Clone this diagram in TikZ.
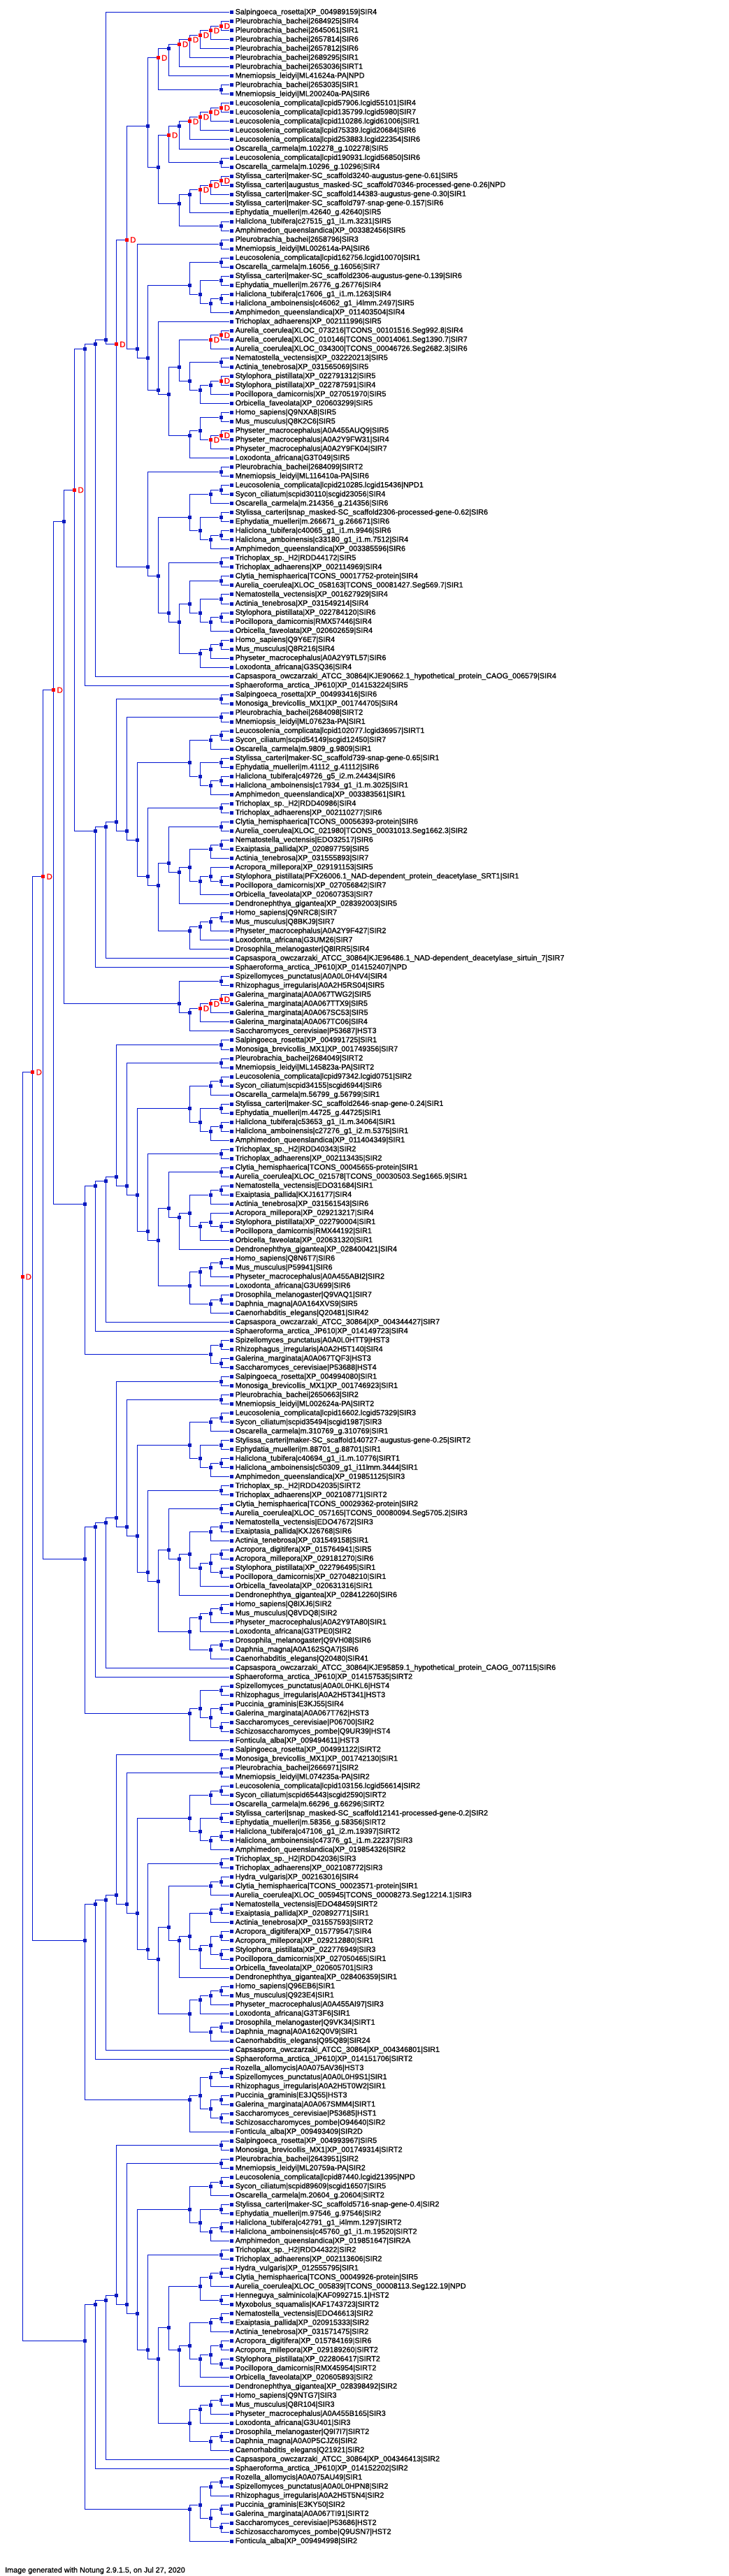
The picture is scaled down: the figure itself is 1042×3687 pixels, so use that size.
\documentclass[tikz,border=0pt]{standalone}
\usepackage{fontspec}
\setmainfont{Liberation Sans}
\newfontface\labfont{Liberation Sans}[FakeBold=1.0]
\definecolor{tblue}{RGB}{0,20,210}
\definecolor{tsq}{RGB}{10,25,190}
\definecolor{tred}{RGB}{255,0,0}
\newcount\leafn
\newcount\cdepth
\newcount\nodeN
\def\leafx{331}
\def\ystart{17.7}
\def\ystep{13.02}
\def\levstep{14.95}
\tikzset{
  sqnode/.style={rectangle, fill=tsq, draw=none, minimum size=5pt, inner sep=0pt},
  dupnode/.style={rectangle, fill=tred, draw=none, minimum size=5pt, inner sep=0pt},
  leaflab/.style={anchor=west, inner sep=0pt, font=\labfont\fontsize{10.8}{12}\selectfont, text=black},
  duplab/.style={anchor=west, inner sep=0pt, font=\labfont\fontsize{11.5}{12}\selectfont, text=tred},
  branch/.style={draw=tblue, line width=1pt},
}
\expandafter\def\csname kc@0\endcsname{0}
\expandafter\def\csname ml@0\endcsname{0}
\def\Op{%
  \global\advance\cdepth by 1
  \expandafter\xdef\csname fst@\the\cdepth\endcsname{\the\numexpr\leafn+1\relax}%
  \expandafter\xdef\csname kc@\the\cdepth\endcsname{0}%
  \expandafter\xdef\csname ml@\the\cdepth\endcsname{0}%
}
\def\AddKid#1#2{%
  \expandafter\xdef\csname kc@\the\cdepth\endcsname{\the\numexpr\csname kc@\the\cdepth\endcsname+1\relax}%
  \expandafter\xdef\csname k@\the\cdepth @\csname kc@\the\cdepth\endcsname\endcsname{#1}%
  \ifnum#2>\csname ml@\the\cdepth\endcsname\relax
    \expandafter\xdef\csname ml@\the\cdepth\endcsname{#2}%
  \fi
}
\def\Lf#1{%
  \global\advance\leafn by 1
  \pgfmathsetmacro\yy{-(\ystart+(\the\leafn-1)*\ystep)}%
  \node[sqnode] (L\the\leafn) at (\leafx,\yy) {};
  \node[leaflab] (T\the\leafn) at (\leafx+5.5,\yy) {#1};
  \AddKid{L\the\leafn}{0}%
}
\def\CloseClade#1{%
  \global\advance\nodeN by 1
  \edef\lev{\the\numexpr\csname ml@\the\cdepth\endcsname+1\relax}%
  \edef\fst{\csname fst@\the\cdepth\endcsname}%
  \edef\nk{\csname kc@\the\cdepth\endcsname}%
  \edef\nm{I\the\nodeN}%
  \pgfmathsetmacro\yy{-(\ystart+((\fst+\the\leafn)/2-1)*\ystep)}%
  \pgfmathsetmacro\xx{\leafx-\lev*\levstep}%
  \coordinate (c\nm) at (\xx,\yy);
  \foreach \i in {1,...,\nk}{%
    \edef\kidnm{\csname k@\the\cdepth @\i\endcsname}%
    \draw[branch] (c\nm) |- (\kidnm);
  }
  \ifx#1D%
    \node[dupnode] (\nm) at (c\nm) {};
    \node[duplab] (D\nm) at ([xshift=4.5pt]\nm.center) {D};
  \else
    \node[sqnode] (\nm) at (c\nm) {};
  \fi
  \global\advance\cdepth by -1
  \AddKid{\nm}{\lev}%
}
\def\Cl{\CloseClade N}
\def\ClD{\CloseClade D}
\def\Ch#1#2{\Op\Lf{#1}\Lf{#2}\Cl}
\def\ChD#1#2{\Op\Lf{#1}\Lf{#2}\ClD}
\begin{document}
\catcode`\_=12
\begin{tikzpicture}[x=1pt,y=1pt]
\fill[white] (0,0) rectangle (1042,-3687);
\useasboundingbox (0,0) rectangle (1042,-3687);
\Op % root
 \Op % 96D
  \Op % 127D
   \Op % 158D
    \Op % 189
     \Op % 220D
      \Op % G1 250
       \Op % 282
        \Op % 313
         \Lf{Salpingoeca_rosetta|XP_004989159|SIR4}
         \Op % 343D
          \Op % 374D
           \Op % 436
            \Op % 467D
             \Op % 497
              \Op \Op \Op \Op
                  \ChD{Pleurobrachia_bachei|2684925|SIR4}{Pleurobrachia_bachei|2645061|SIR1}
                  \Lf{Pleurobrachia_bachei|2657814|SIR6}
                 \ClD
                 \Lf{Pleurobrachia_bachei|2657812|SIR6}
                \ClD
                \Lf{Pleurobrachia_bachei|2689295|SIR1}
               \ClD
               \Lf{Pleurobrachia_bachei|2653036|SIRT1}
              \ClD
              \Lf{Mnemiopsis_leidyi|ML41624a-PA|NPD}
             \Cl
             \Ch{Pleurobrachia_bachei|2653035|SIR1}{Mnemiopsis_leidyi|ML200240a-PA|SIR6}
            \ClD
            \Op % 467
             \Op % 497D
              \Op \Op \Op \Op
                  \ChD{Leucosolenia_complicata|lcpid57906.lcgid55101|SIR4}{Leucosolenia_complicata|lcpid135799.lcgid5980|SIR7}
                  \Lf{Leucosolenia_complicata|lcpid110286.lcgid61006|SIR1}
                 \ClD
                 \Lf{Leucosolenia_complicata|lcpid75339.lcgid20684|SIR6}
                \ClD
                \Lf{Leucosolenia_complicata|lcpid253883.lcgid22354|SIR6}
               \ClD
               \Lf{Oscarella_carmela|m.102278_g.102278|SIR5}
              \Cl
              \Ch{Leucosolenia_complicata|lcpid190931.lcgid56850|SIR6}{Oscarella_carmela|m.10296_g.10296|SIR4}
             \ClD
             \Op % 528
              \Op \Op \Op
                 \ChD{Stylissa_carteri|maker-SC_scaffold3240-augustus-gene-0.61|SIR5}{Stylissa_carteri|augustus_masked-SC_scaffold70346-processed-gene-0.26|NPD}
                 \Lf{Stylissa_carteri|maker-SC_scaffold144383-augustus-gene-0.30|SIR1}
                \ClD
                \Lf{Stylissa_carteri|maker-SC_scaffold797-snap-gene-0.157|SIR6}
               \ClD
               \Lf{Ephydatia_muelleri|m.42640_g.42640|SIR5}
              \Cl
              \Ch{Haliclona_tubifera|c27515_g1_i1.m.3231|SIR5}{Amphimedon_queenslandica|XP_003382456|SIR5}
             \Cl
            \Cl
           \Cl
           \Op % 405
            \Ch{Pleurobrachia_bachei|2658796|SIR3}{Mnemiopsis_leidyi|ML002614a-PA|SIR6}
            \Op % 436
             \Op % 559
              \Ch{Leucosolenia_complicata|lcpid162756.lcgid10070|SIR1}{Oscarella_carmela|m.16056_g.16056|SIR7}
              \Op
               \Ch{Stylissa_carteri|maker-SC_scaffold2306-augustus-gene-0.139|SIR6}{Ephydatia_muelleri|m.26776_g.26776|SIR4}
               \Op \Ch{Haliclona_tubifera|c17606_g1_i1.m.1263|SIR4}{Haliclona_amboinensis|c46062_g1_i4lmm.2497|SIR5}\Lf{Amphimedon_queenslandica|XP_011403504|SIR4}\Cl
              \Cl
             \Cl
             \Op % 467
              \Lf{Trichoplax_adhaerens|XP_002111996|SIR5}
              \Op % 497
               \Op % 528
                \Op
                 \ChD{Aurelia_coerulea|XLOC_073216|TCONS_00101516.Seg992.8|SIR4}{Aurelia_coerulea|XLOC_010146|TCONS_00014061.Seg1390.7|SIR7}
                 \Lf{Aurelia_coerulea|XLOC_034300|TCONS_00046726.Seg2682.3|SIR6}
                \ClD
                \Op
                 \Ch{Nematostella_vectensis|XP_032220213|SIR5}{Actinia_tenebrosa|XP_031565069|SIR5}
                 \Op
                  \Op
                   \ChD{Stylophora_pistillata|XP_022791312|SIR5}{Stylophora_pistillata|XP_022787591|SIR4}
                   \Lf{Pocillopora_damicornis|XP_027051970|SIR5}
                  \Cl
                  \Lf{Orbicella_faveolata|XP_020603299|SIR5}
                 \Cl
                \Cl
               \Cl
               \Op % 559
                \Op
                 \Ch{Homo_sapiens|Q9NXA8|SIR5}{Mus_musculus|Q8K2C6|SIR5}
                 \Op
                  \ChD{Physeter_macrocephalus|A0A455AUQ9|SIR5}{Physeter_macrocephalus|A0A2Y9FW31|SIR4}
                  \Lf{Physeter_macrocephalus|A0A2Y9FK04|SIR7}
                 \ClD
                \Cl
                \Lf{Loxodonta_africana|G3T049|SIR5}
               \Cl
              \Cl
             \Cl
            \Cl
           \Cl
          \ClD % 374D
          \Op % 436
           \Ch{Pleurobrachia_bachei|2684099|SIRT2}{Mnemiopsis_leidyi|ML116410a-PA|SIR6}
           \Op
            \Op
             \Op \Ch{Leucosolenia_complicata|lcpid210285.lcgid15436|NPD1}{Sycon_ciliatum|scpid30110|scgid23056|SIR4}\Lf{Oscarella_carmela|m.214356_g.214356|SIR6}\Cl
             \Op
              \Ch{Stylissa_carteri|snap_masked-SC_scaffold2306-processed-gene-0.62|SIR6}{Ephydatia_muelleri|m.266671_g.266671|SIR6}
              \Op \Ch{Haliclona_tubifera|c40065_g1_i1.m.9946|SIR6}{Haliclona_amboinensis|c33180_g1_i1.m.7512|SIR4}\Lf{Amphimedon_queenslandica|XP_003385596|SIR6}\Cl
             \Cl
            \Cl
            \Op
             \Ch{Trichoplax_sp._H2|RDD44172|SIR5}{Trichoplax_adhaerens|XP_002114969|SIR4}
             \Op
              \Op
               \Ch{Clytia_hemisphaerica|TCONS_00017752-protein|SIR4}{Aurelia_coerulea|XLOC_058163|TCONS_00081427.Seg569.7|SIR1}
               \Op
                \Ch{Nematostella_vectensis|XP_001627929|SIR4}{Actinia_tenebrosa|XP_031549214|SIR4}
                \Op \Ch{Stylophora_pistillata|XP_022784120|SIR6}{Pocillopora_damicornis|RMX57446|SIR4}\Lf{Orbicella_faveolata|XP_020602659|SIR4}\Cl
               \Cl
              \Cl
              \Op
               \Op \Ch{Homo_sapiens|Q9Y6E7|SIR4}{Mus_musculus|Q8R216|SIR4}\Lf{Physeter_macrocephalus|A0A2Y9TL57|SIR6}\Cl
               \Lf{Loxodonta_africana|G3SQ36|SIR4}
              \Cl
             \Cl
            \Cl
           \Cl
          \Cl
         \ClD % 343D
        \Cl % 313
        \Lf{Capsaspora_owczarzaki_ATCC_30864|KJE90662.1_hypothetical_protein_CAOG_006579|SIR4}
       \Cl % 282
       \Lf{Sphaeroforma_arctica_JP610|XP_014153224|SIR5}
      \Cl % 250
      \Op % G2 282
       \Op % 313
        \Op % 343
         \Ch{Salpingoeca_rosetta|XP_004993416|SIR6}{Monosiga_brevicollis_MX1|XP_001744705|SIR4}
         \Op
          \Ch{Pleurobrachia_bachei|2684098|SIRT2}{Mnemiopsis_leidyi|ML07623a-PA|SIR1}
          \Op
           \Op
            \Op \Ch{Leucosolenia_complicata|lcpid102077.lcgid36957|SIRT1}{Sycon_ciliatum|scpid54149|scgid12450|SIR7}\Lf{Oscarella_carmela|m.9809_g.9809|SIR1}\Cl
            \Op \Ch{Stylissa_carteri|maker-SC_scaffold739-snap-gene-0.65|SIR1}{Ephydatia_muelleri|m.41112_g.41112|SIR6}
             \Op \Ch{Haliclona_tubifera|c49726_g5_i2.m.24434|SIR6}{Haliclona_amboinensis|c17934_g1_i1.m.3025|SIR1}\Lf{Amphimedon_queenslandica|XP_003383561|SIR1}\Cl
            \Cl
           \Cl
           \Op
            \Ch{Trichoplax_sp._H2|RDD40986|SIR4}{Trichoplax_adhaerens|XP_002110277|SIR6}
            \Op
             \Op
              \Ch{Clytia_hemisphaerica|TCONS_00056393-protein|SIR6}{Aurelia_coerulea|XLOC_021980|TCONS_00031013.Seg1662.3|SIR2}
              \Op
               \Op
                \Op \Ch{Nematostella_vectensis|EDO32517|SIR6}{Exaiptasia_pallida|XP_020897759|SIR5}\Lf{Actinia_tenebrosa|XP_031555893|SIR7}\Cl
                \Op
                 \Op \Lf{Acropora_millepora|XP_029191153|SIR5}\Ch{Stylophora_pistillata|PFX26006.1_NAD-dependent_protein_deacetylase_SRT1|SIR1}{Pocillopora_damicornis|XP_027056842|SIR7}\Cl
                 \Lf{Orbicella_faveolata|XP_020607353|SIR7}
                \Cl
               \Cl
               \Lf{Dendronephthya_gigantea|XP_028392003|SIR5}
              \Cl
             \Cl
             \Op
              \Op \Op \Ch{Homo_sapiens|Q9NRC8|SIR7}{Mus_musculus|Q8BKJ9|SIR7}\Lf{Physeter_macrocephalus|A0A2Y9F427|SIR2}\Cl \Lf{Loxodonta_africana|G3UM26|SIR7}\Cl
              \Lf{Drosophila_melanogaster|Q8IRR5|SIR4}
             \Cl
            \Cl
           \Cl
          \Cl
         \Cl
        \Cl % 343
        \Lf{Capsaspora_owczarzaki_ATCC_30864|KJE96486.1_NAD-dependent_deacetylase_sirtuin_7|SIR7}
       \Cl
       \Lf{Sphaeroforma_arctica_JP610|XP_014152407|NPD}
      \Cl
     \ClD % 220D
     \Op % fungi 528
      \Ch{Spizellomyces_punctatus|A0A0L0H4V4|SIR4}{Rhizophagus_irregularis|A0A2H5RS04|SIR5}
      \Op
       \Op
        \Op
         \ChD{Galerina_marginata|A0A067TWG2|SIR5}{Galerina_marginata|A0A067TTX9|SIR5}
         \Lf{Galerina_marginata|A0A067SC53|SIR5}
        \ClD
        \Lf{Galerina_marginata|A0A067TC06|SIR4}
       \ClD
       \Lf{Saccharomyces_cerevisiae|P53687|HST3}
      \Cl
     \Cl
    \Cl % 189
    \Op % G3 250
     \Op
      \Op
       \Op
        \Ch{Salpingoeca_rosetta|XP_004991725|SIR1}{Monosiga_brevicollis_MX1|XP_001749356|SIR7}
        \Op
         \Ch{Pleurobrachia_bachei|2684049|SIRT2}{Mnemiopsis_leidyi|ML145823a-PA|SIRT2}
         \Op
          \Op
           \Op \Ch{Leucosolenia_complicata|lcpid97342.lcgid0751|SIR2}{Sycon_ciliatum|scpid34155|scgid6944|SIR6}\Lf{Oscarella_carmela|m.56799_g.56799|SIR1}\Cl
           \Op \Ch{Stylissa_carteri|maker-SC_scaffold2646-snap-gene-0.24|SIR1}{Ephydatia_muelleri|m.44725_g.44725|SIR1}
            \Op \Ch{Haliclona_tubifera|c53653_g1_i1.m.34064|SIR1}{Haliclona_amboinensis|c27276_g1_i2.m.5375|SIR1}\Lf{Amphimedon_queenslandica|XP_011404349|SIR1}\Cl
           \Cl
          \Cl
          \Op
           \Ch{Trichoplax_sp._H2|RDD40343|SIR2}{Trichoplax_adhaerens|XP_002113435|SIR2}
           \Op
            \Op
             \Ch{Clytia_hemisphaerica|TCONS_00045655-protein|SIR1}{Aurelia_coerulea|XLOC_021578|TCONS_00030503.Seg1665.9|SIR1}
             \Op
              \Op
               \Op \Ch{Nematostella_vectensis|EDO31684|SIR1}{Exaiptasia_pallida|KXJ16177|SIR4}\Lf{Actinia_tenebrosa|XP_031561543|SIR6}\Cl
               \Op \Op \Lf{Acropora_millepora|XP_029213217|SIR4}\Ch{Stylophora_pistillata|XP_022790004|SIR1}{Pocillopora_damicornis|RMX44192|SIR1}\Cl \Lf{Orbicella_faveolata|XP_020631320|SIR1}\Cl
              \Cl
              \Lf{Dendronephthya_gigantea|XP_028400421|SIR4}
             \Cl
            \Cl
            \Op
             \Op \Op \Ch{Homo_sapiens|Q8N6T7|SIR6}{Mus_musculus|P59941|SIR6}\Lf{Physeter_macrocephalus|A0A455ABI2|SIR2}\Cl \Lf{Loxodonta_africana|G3U699|SIR6}\Cl
             \Op \Ch{Drosophila_melanogaster|Q9VAQ1|SIR7}{Daphnia_magna|A0A164XVS9|SIR5}\Lf{Caenorhabditis_elegans|Q20481|SIR42}\Cl
            \Cl
           \Cl
          \Cl
         \Cl
        \Cl
       \Cl
       \Lf{Capsaspora_owczarzaki_ATCC_30864|XP_004344427|SIR7}
      \Cl
      \Lf{Sphaeroforma_arctica_JP610|XP_014149723|SIR4}
     \Cl
     \Op \Ch{Spizellomyces_punctatus|A0A0L0HTT9|HST3}{Rhizophagus_irregularis|A0A2H5T140|SIR4}\Ch{Galerina_marginata|A0A067TQF3|HST3}{Saccharomyces_cerevisiae|P53688|HST4}\Cl
    \Cl
   \ClD % 158D
   \Op % G4 250
    \Op
     \Op
      \Op
       \Ch{Salpingoeca_rosetta|XP_004994080|SIR1}{Monosiga_brevicollis_MX1|XP_001746923|SIR1}
       \Op
        \Ch{Pleurobrachia_bachei|2650663|SIR2}{Mnemiopsis_leidyi|ML002624a-PA|SIRT2}
        \Op
         \Op
          \Op \Ch{Leucosolenia_complicata|lcpid16602.lcgid57329|SIR3}{Sycon_ciliatum|scpid35494|scgid1987|SIR3}\Lf{Oscarella_carmela|m.310769_g.310769|SIR1}\Cl
          \Op \Ch{Stylissa_carteri|maker-SC_scaffold140727-augustus-gene-0.25|SIRT2}{Ephydatia_muelleri|m.88701_g.88701|SIR1}
           \Op \Ch{Haliclona_tubifera|c40694_g1_i1.m.10776|SIRT1}{Haliclona_amboinensis|c50309_g1_i11lmm.3444|SIR1}\Lf{Amphimedon_queenslandica|XP_019851125|SIR3}\Cl
          \Cl
         \Cl
         \Op
          \Ch{Trichoplax_sp._H2|RDD42035|SIRT2}{Trichoplax_adhaerens|XP_002108771|SIRT2}
          \Op
           \Op
            \Ch{Clytia_hemisphaerica|TCONS_00029362-protein|SIR2}{Aurelia_coerulea|XLOC_057165|TCONS_00080094.Seg5705.2|SIR3}
            \Op
             \Op
              \Op \Ch{Nematostella_vectensis|EDO47672|SIR3}{Exaiptasia_pallida|KXJ26768|SIR6}\Lf{Actinia_tenebrosa|XP_031549158|SIR1}\Cl
              \Op \Op \Ch{Acropora_digitifera|XP_015764941|SIR5}{Acropora_millepora|XP_029181270|SIR6}\Ch{Stylophora_pistillata|XP_022796495|SIR1}{Pocillopora_damicornis|XP_027048210|SIR1}\Cl \Lf{Orbicella_faveolata|XP_020631316|SIR1}\Cl
             \Cl
             \Lf{Dendronephthya_gigantea|XP_028412260|SIR6}
            \Cl
           \Cl
           \Op
            \Op \Op \Ch{Homo_sapiens|Q8IXJ6|SIR2}{Mus_musculus|Q8VDQ8|SIR2}\Lf{Physeter_macrocephalus|A0A2Y9TA80|SIR1}\Cl \Lf{Loxodonta_africana|G3TPE0|SIR2}\Cl
            \Op \Ch{Drosophila_melanogaster|Q9VH08|SIR6}{Daphnia_magna|A0A162SQA7|SIR6}\Lf{Caenorhabditis_elegans|Q20480|SIR41}\Cl
           \Cl
          \Cl
         \Cl
        \Cl
       \Cl
      \Cl
      \Lf{Capsaspora_owczarzaki_ATCC_30864|KJE95859.1_hypothetical_protein_CAOG_007115|SIR6}
     \Cl
     \Lf{Sphaeroforma_arctica_JP610|XP_014157535|SIRT2}
    \Cl
    \Op
     \Op
      \Ch{Spizellomyces_punctatus|A0A0L0HKL6|HST4}{Rhizophagus_irregularis|A0A2H5T341|HST3}
      \Op \Ch{Puccinia_graminis|E3KJ55|SIR4}{Galerina_marginata|A0A067T762|HST3}\Ch{Saccharomyces_cerevisiae|P06700|SIR2}{Schizosaccharomyces_pombe|Q9UR39|HST4}\Cl
     \Cl
     \Lf{Fonticula_alba|XP_009494611|HST3}
    \Cl
   \Cl
  \ClD % 127D
  \Op % G5 250
   \Op
    \Op
     \Op
      \Ch{Salpingoeca_rosetta|XP_004991122|SIRT2}{Monosiga_brevicollis_MX1|XP_001742130|SIR1}
      \Op
       \Ch{Pleurobrachia_bachei|2666971|SIR2}{Mnemiopsis_leidyi|ML074235a-PA|SIR2}
       \Op
        \Op
         \Op \Ch{Leucosolenia_complicata|lcpid103156.lcgid56614|SIR2}{Sycon_ciliatum|scpid65443|scgid2590|SIRT2}\Lf{Oscarella_carmela|m.66296_g.66296|SIRT2}\Cl
         \Op \Ch{Stylissa_carteri|snap_masked-SC_scaffold12141-processed-gene-0.2|SIR2}{Ephydatia_muelleri|m.58356_g.58356|SIRT2}
          \Op \Ch{Haliclona_tubifera|c47106_g1_i2.m.19397|SIRT2}{Haliclona_amboinensis|c47376_g1_i1.m.22237|SIR3}\Lf{Amphimedon_queenslandica|XP_019854326|SIR2}\Cl
         \Cl
        \Cl
        \Op
         \Ch{Trichoplax_sp._H2|RDD42036|SIR3}{Trichoplax_adhaerens|XP_002108772|SIR3}
         \Op
          \Op
           \Op \Ch{Hydra_vulgaris|XP_002163016|SIR4}{Clytia_hemisphaerica|TCONS_00023571-protein|SIR1}\Lf{Aurelia_coerulea|XLOC_005945|TCONS_00008273.Seg12214.1|SIR3}\Cl
           \Op
            \Op
             \Op \Ch{Nematostella_vectensis|EDO48459|SIRT2}{Exaiptasia_pallida|XP_020892771|SIR1}\Lf{Actinia_tenebrosa|XP_031557593|SIRT2}\Cl
             \Op \Op \Ch{Acropora_digitifera|XP_015779547|SIR4}{Acropora_millepora|XP_029212880|SIR1}\Ch{Stylophora_pistillata|XP_022776949|SIR3}{Pocillopora_damicornis|XP_027050465|SIR1}\Cl \Lf{Orbicella_faveolata|XP_020605701|SIR3}\Cl
            \Cl
            \Lf{Dendronephthya_gigantea|XP_028406359|SIR1}
           \Cl
          \Cl
          \Op
           \Op \Op \Ch{Homo_sapiens|Q96EB6|SIR1}{Mus_musculus|Q923E4|SIR1}\Lf{Physeter_macrocephalus|A0A455AI97|SIR3}\Cl \Lf{Loxodonta_africana|G3T3F6|SIR1}\Cl
           \Op \Ch{Drosophila_melanogaster|Q9VK34|SIRT1}{Daphnia_magna|A0A162Q0V9|SIR1}\Lf{Caenorhabditis_elegans|Q95Q89|SIR24}\Cl
          \Cl
         \Cl
        \Cl
       \Cl
      \Cl
     \Cl
     \Lf{Capsaspora_owczarzaki_ATCC_30864|XP_004346801|SIR1}
    \Cl
    \Lf{Sphaeroforma_arctica_JP610|XP_014151706|SIRT2}
   \Cl
   \Op
    \Op
     \Op \Ch{Rozella_allomycis|A0A075AV36|HST3}{Spizellomyces_punctatus|A0A0L0H9S1|SIR1}\Lf{Rhizophagus_irregularis|A0A2H5T0W2|SIR1}\Cl
     \Op \Ch{Puccinia_graminis|E3JQ55|HST3}{Galerina_marginata|A0A067SMM4|SIRT1}\Ch{Saccharomyces_cerevisiae|P53685|HST1}{Schizosaccharomyces_pombe|O94640|SIR2}\Cl
    \Cl
    \Lf{Fonticula_alba|XP_009493409|SIR2D}
   \Cl
  \Cl
 \ClD % 96D
 \Op % G6 250
  \Op
   \Op
    \Op
     \Ch{Salpingoeca_rosetta|XP_004993967|SIR5}{Monosiga_brevicollis_MX1|XP_001749314|SIRT2}
     \Op
      \Ch{Pleurobrachia_bachei|2643951|SIR2}{Mnemiopsis_leidyi|ML20759a-PA|SIR2}
      \Op
       \Op
        \Op \Ch{Leucosolenia_complicata|lcpid87440.lcgid21395|NPD}{Sycon_ciliatum|scpid89609|scgid16507|SIR5}\Lf{Oscarella_carmela|m.20604_g.20604|SIRT2}\Cl
        \Op \Ch{Stylissa_carteri|maker-SC_scaffold5716-snap-gene-0.4|SIR2}{Ephydatia_muelleri|m.97546_g.97546|SIR2}
         \Op \Ch{Haliclona_tubifera|c42791_g1_i4lmm.1297|SIRT2}{Haliclona_amboinensis|c45760_g1_i1.m.19520|SIRT2}\Lf{Amphimedon_queenslandica|XP_019851647|SIR2A}\Cl
        \Cl
       \Cl
       \Op
        \Ch{Trichoplax_sp._H2|RDD44322|SIR2}{Trichoplax_adhaerens|XP_002113606|SIR2}
        \Op
         \Op
          \Op
           \Op \Ch{Hydra_vulgaris|XP_012555795|SIR1}{Clytia_hemisphaerica|TCONS_00049926-protein|SIR5}\Lf{Aurelia_coerulea|XLOC_005839|TCONS_00008113.Seg122.19|NPD}\Cl
           \Ch{Henneguya_salminicola|KAF0992715.1|HST2}{Myxobolus_squamalis|KAF1743723|SIRT2}
          \Cl
          \Op
           \Op
            \Op \Ch{Nematostella_vectensis|EDO46613|SIR2}{Exaiptasia_pallida|XP_020915333|SIR2}\Lf{Actinia_tenebrosa|XP_031571475|SIR2}\Cl
            \Op \Op \Ch{Acropora_digitifera|XP_015784169|SIR6}{Acropora_millepora|XP_029189260|SIRT2}\Ch{Stylophora_pistillata|XP_022806417|SIRT2}{Pocillopora_damicornis|RMX45954|SIRT2}\Cl \Lf{Orbicella_faveolata|XP_020605893|SIR2}\Cl
           \Cl
           \Lf{Dendronephthya_gigantea|XP_028398492|SIR2}
          \Cl
         \Cl
         \Op
          \Op \Op \Ch{Homo_sapiens|Q9NTG7|SIR3}{Mus_musculus|Q8R104|SIR3}\Lf{Physeter_macrocephalus|A0A455B165|SIR3}\Cl \Lf{Loxodonta_africana|G3U401|SIR3}\Cl
          \Op \Ch{Drosophila_melanogaster|Q9I7I7|SIRT2}{Daphnia_magna|A0A0P5CJZ6|SIR2}\Lf{Caenorhabditis_elegans|Q21921|SIR2}\Cl
         \Cl
        \Cl
       \Cl
      \Cl
     \Cl
    \Cl
    \Lf{Capsaspora_owczarzaki_ATCC_30864|XP_004346413|SIR2}
   \Cl
   \Lf{Sphaeroforma_arctica_JP610|XP_014152202|SIR2}
  \Cl
  \Op
   \Op
    \Op \Ch{Rozella_allomycis|A0A075AU49|SIR1}{Spizellomyces_punctatus|A0A0L0HPN8|SIR2}\Lf{Rhizophagus_irregularis|A0A2H5T5N4|SIR2}\Cl
    \Op \Ch{Puccinia_graminis|E3KY50|SIR2}{Galerina_marginata|A0A067TI91|SIRT2}\Ch{Saccharomyces_cerevisiae|P53686|HST2}{Schizosaccharomyces_pombe|Q9USN7|HST2}\Cl
   \Cl
   \Lf{Fonticula_alba|XP_009494998|SIR2}
  \Cl
 \Cl
\ClD % root
\node[anchor=base west, inner sep=0pt, font=\labfont\fontsize{10.8}{12}\selectfont] (credit) at (7,-3682) {Image generated with Notung 2.9.1.5, on Jul 27, 2020};
\end{tikzpicture}
\end{document}
